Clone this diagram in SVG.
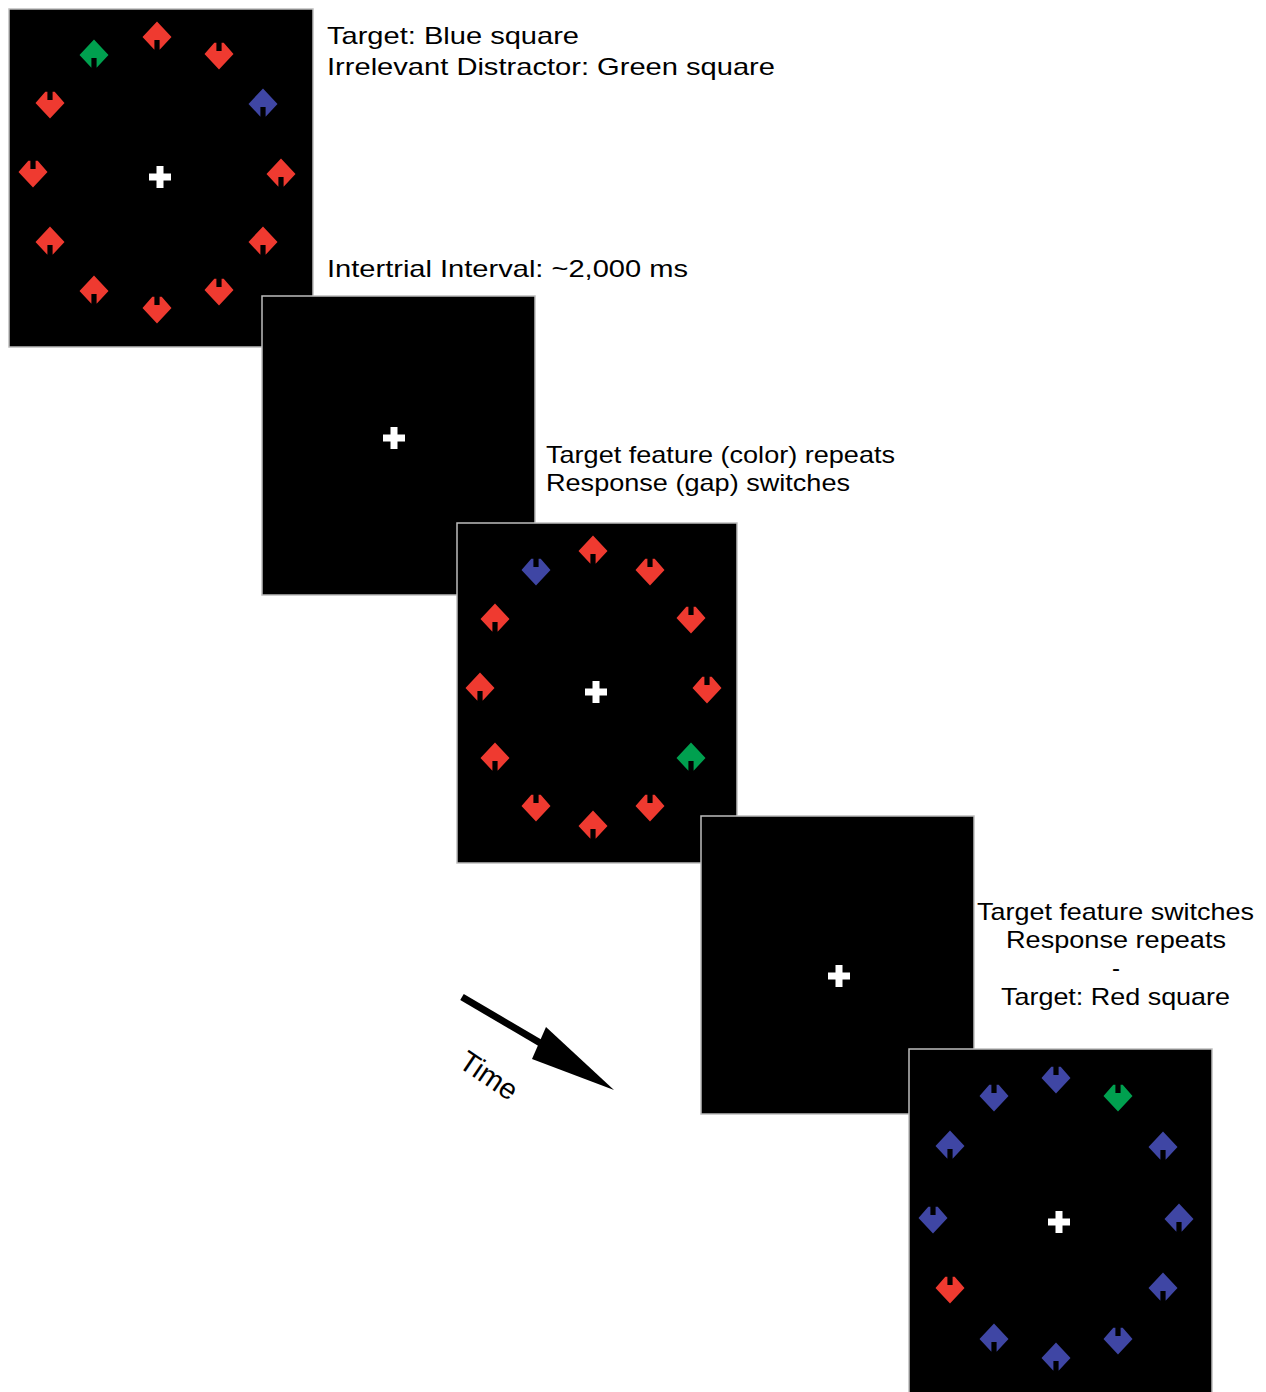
<svg xmlns="http://www.w3.org/2000/svg" xmlns:xlink="http://www.w3.org/1999/xlink" width="1266" height="1392" viewBox="0 0 1266 1392">
<style>
.panel{fill:#000;stroke:#bdbdbd;stroke-width:1.5}
.lbl{font-family:"Liberation Sans",Arial,Helvetica,sans-serif;font-size:24px;fill:#000}
.time{font-size:29px}
.r{fill:#ef3a30}.b{fill:#3f46a4}.g{fill:#00a04f}
</style>
<defs>
<path id="up" d="M0,-15.5 L14.5,0 L2.6,12.7 L2.6,3 L-2.6,3 L-2.6,12.7 L-14.5,0 Z"/>
<path id="dn" d="M-14.5,0 L-4.7,-11.3 L-2.6,-11.3 L-2.6,-3 L2.6,-3 L2.6,-11.3 L4.7,-11.3 L14.5,0 L0,15.5 Z"/>
<g id="cross" fill="#fff"><rect x="-11" y="-3.5" width="22" height="7"/><rect x="-3.5" y="-11" width="7" height="22"/></g>
</defs>
<rect width="1266" height="1392" fill="#fff"/>

<g id="panel1">
<rect class="panel" x="9" y="9" width="304" height="338"/>
<use xlink:href="#cross" x="160" y="177"/>
<use xlink:href="#up" class="r" x="157" y="37"/>
<use xlink:href="#dn" class="r" x="219" y="54"/>
<use xlink:href="#up" class="b" x="263" y="104"/>
<use xlink:href="#up" class="r" x="281" y="174"/>
<use xlink:href="#up" class="r" x="263" y="242"/>
<use xlink:href="#dn" class="r" x="219" y="290"/>
<use xlink:href="#dn" class="r" x="157" y="308"/>
<use xlink:href="#up" class="r" x="94" y="291"/>
<use xlink:href="#up" class="r" x="50" y="242"/>
<use xlink:href="#dn" class="r" x="33" y="172"/>
<use xlink:href="#dn" class="r" x="50" y="103"/>
<use xlink:href="#up" class="g" x="94" y="55"/>
</g>

<g id="panel2">
<rect class="panel" x="262" y="296" width="273" height="299"/>
<use xlink:href="#cross" x="394" y="438"/>
</g>

<g id="panel3">
<rect class="panel" x="457" y="523" width="280" height="340"/>
<use xlink:href="#cross" x="596" y="692"/>
<use xlink:href="#up" class="r" x="593" y="551"/>
<use xlink:href="#dn" class="r" x="650" y="570"/>
<use xlink:href="#dn" class="r" x="691" y="618"/>
<use xlink:href="#dn" class="r" x="707" y="688"/>
<use xlink:href="#up" class="g" x="691" y="758"/>
<use xlink:href="#dn" class="r" x="650" y="806"/>
<use xlink:href="#up" class="r" x="593" y="826"/>
<use xlink:href="#dn" class="r" x="536" y="806"/>
<use xlink:href="#up" class="r" x="495" y="758"/>
<use xlink:href="#up" class="r" x="480" y="688"/>
<use xlink:href="#up" class="r" x="495" y="619"/>
<use xlink:href="#dn" class="b" x="536" y="570"/>
</g>

<g id="panel4">
<rect class="panel" x="701" y="816" width="273" height="298"/>
<use xlink:href="#cross" x="839" y="976"/>
</g>

<g id="panel5">
<rect class="panel" x="909" y="1049" width="303" height="360"/>
<use xlink:href="#cross" x="1059" y="1222"/>
<use xlink:href="#dn" class="b" x="1056" y="1078"/>
<use xlink:href="#dn" class="g" x="1118" y="1096"/>
<use xlink:href="#up" class="b" x="1163" y="1147"/>
<use xlink:href="#up" class="b" x="1179" y="1219"/>
<use xlink:href="#up" class="b" x="1163" y="1288"/>
<use xlink:href="#dn" class="b" x="1118" y="1339"/>
<use xlink:href="#up" class="b" x="1056" y="1358"/>
<use xlink:href="#up" class="b" x="994" y="1339"/>
<use xlink:href="#dn" class="r" x="950" y="1288"/>
<use xlink:href="#dn" class="b" x="933" y="1218"/>
<use xlink:href="#up" class="b" x="950" y="1146"/>
<use xlink:href="#dn" class="b" x="994" y="1096"/>
</g>

<g id="labels">
<text class="lbl" x="327" y="44" textLength="252" lengthAdjust="spacingAndGlyphs">Target: Blue square</text>
<text class="lbl" x="327" y="75" textLength="448" lengthAdjust="spacingAndGlyphs">Irrelevant Distractor: Green square</text>
<text class="lbl" x="327" y="277" textLength="361" lengthAdjust="spacingAndGlyphs">Intertrial Interval: ~2,000 ms</text>
<text class="lbl" x="546" y="463" textLength="349" lengthAdjust="spacingAndGlyphs">Target feature (color) repeats</text>
<text class="lbl" x="546" y="491" textLength="304" lengthAdjust="spacingAndGlyphs">Response (gap) switches</text>
<text class="lbl" x="977" y="920" textLength="277" lengthAdjust="spacingAndGlyphs">Target feature switches</text>
<text class="lbl" x="1006" y="948" textLength="220" lengthAdjust="spacingAndGlyphs">Response repeats</text>
<text class="lbl" x="1116" y="976" text-anchor="middle">-</text>
<text class="lbl" x="1001" y="1005" textLength="229" lengthAdjust="spacingAndGlyphs">Target: Red square</text>
</g>

<g id="connectors">
<line x1="462" y1="997" x2="542" y2="1044" stroke="#000" stroke-width="7"/>
<polygon points="546,1027 532,1059 614,1090" fill="#000"/>
<text class="lbl time" x="457" y="1066" transform="rotate(34 457 1066)">Time</text>
</g>
</svg>
